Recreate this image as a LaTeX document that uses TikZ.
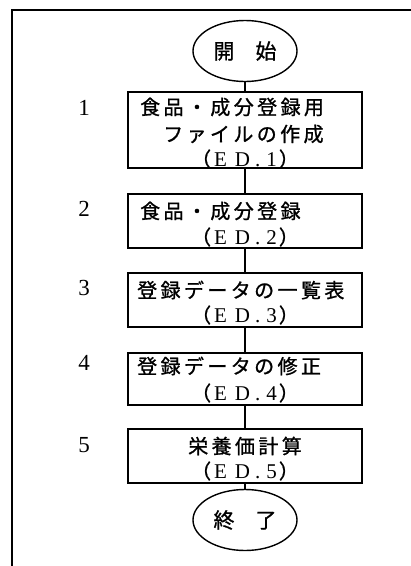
\documentclass[tikz,border=0pt]{standalone}
\usepackage{fontspec}
\usetikzlibrary{shapes.geometric}
\setmainfont{Liberation Serif}
\newfontfamily\cjk[FakeBold=1]{Noto Sans CJK JP}
\newfontfamily\cjksp[LetterSpace=17,FakeBold=1]{Noto Sans CJK JP}
\newcommand\edlabel[1]{{\cjk\fontsize{20}{20}\selectfont （}\kern3pt E\kern8pt D\kern5pt .\kern6pt #1\kern2pt{\cjk\fontsize{20}{20}\selectfont ）}}
\tikzset{
 frameline/.style={line width=1.8pt},
 procbox/.style={draw, line width=1.6pt, minimum width=234pt, inner sep=0pt},
 terminal/.style={draw, ellipse, line width=1.4pt, minimum width=104pt, minimum height=61pt, inner sep=0pt, font=\cjk\fontsize{21}{21}\selectfont},
 boxtext/.style={anchor=west, inner sep=0pt, font=\cjksp\fontsize{20}{20}\selectfont},
 boxtextc/.style={inner sep=0pt, font=\cjksp\fontsize{20}{20}\selectfont},
 edtext/.style={inner sep=0pt, font=\fontsize{21}{21}\selectfont},
 stepnum/.style={inner sep=0pt, font=\fontsize{23}{23}\selectfont},
 link/.style={line width=1.4pt}
}
\begin{document}
\begin{tikzpicture}[x=1pt,y=-1pt]
\useasboundingbox (0,0) rectangle (411,566);
\fill[white] (0,0) rectangle (411,566);
\coordinate (ftr) at (411,10);
\coordinate (ftl) at (12,10);
\coordinate (fbl) at (12,566);
\draw[frameline] (ftr) -- (ftl) -- (fbl);

\node[terminal] (start) at (245,51) {開　始};
\node[procbox, minimum height=76pt] (b1) at (245,130) {};
\node[procbox, minimum height=54pt] (b2) at (245,221) {};
\node[procbox, minimum height=54pt] (b3) at (245,300) {};
\node[procbox, minimum height=52pt] (b4) at (245,379) {};
\node[procbox, minimum height=54pt] (b5) at (245,456) {};
\node[terminal] (end) at (245,520) {終　了};

\draw[link] (start) -- (b1);
\draw[link] (b1) -- (b2);
\draw[link] (b2) -- (b3);
\draw[link] (b3) -- (b4);
\draw[link] (b4) -- (b5);
\draw[link] (b5) -- (end);

\node[stepnum] (n1) at (84,108) {1};
\node[stepnum] (n2) at (84,209) {2};
\node[stepnum] (n3) at (84,288) {3};
\node[stepnum] (n4) at (84,363) {4};
\node[stepnum] (n5) at (84,445) {5};

\node[boxtext] (t1a) at (140,107) {食品・成分登録用};
\node[boxtext] (t1b) at (163,134) {ファイルの作成};
\node[edtext] (t1c) at (245,159) {\edlabel{1}};
\node[boxtext] (t2a) at (140,211) {食品・成分登録};
\node[edtext] (t2b) at (245,237) {\edlabel{2}};
\node[boxtext] (t3a) at (137,290) {登録データの一覧表};
\node[edtext] (t3b) at (245,315) {\edlabel{3}};
\node[boxtext] (t4a) at (137,366) {登録データの修正};
\node[edtext] (t4b) at (245,393) {\edlabel{4}};
\node[boxtextc] (t5a) at (245,446) {栄養価計算};
\node[edtext] (t5b) at (245,471) {\edlabel{5}};
\end{tikzpicture}
\end{document}
